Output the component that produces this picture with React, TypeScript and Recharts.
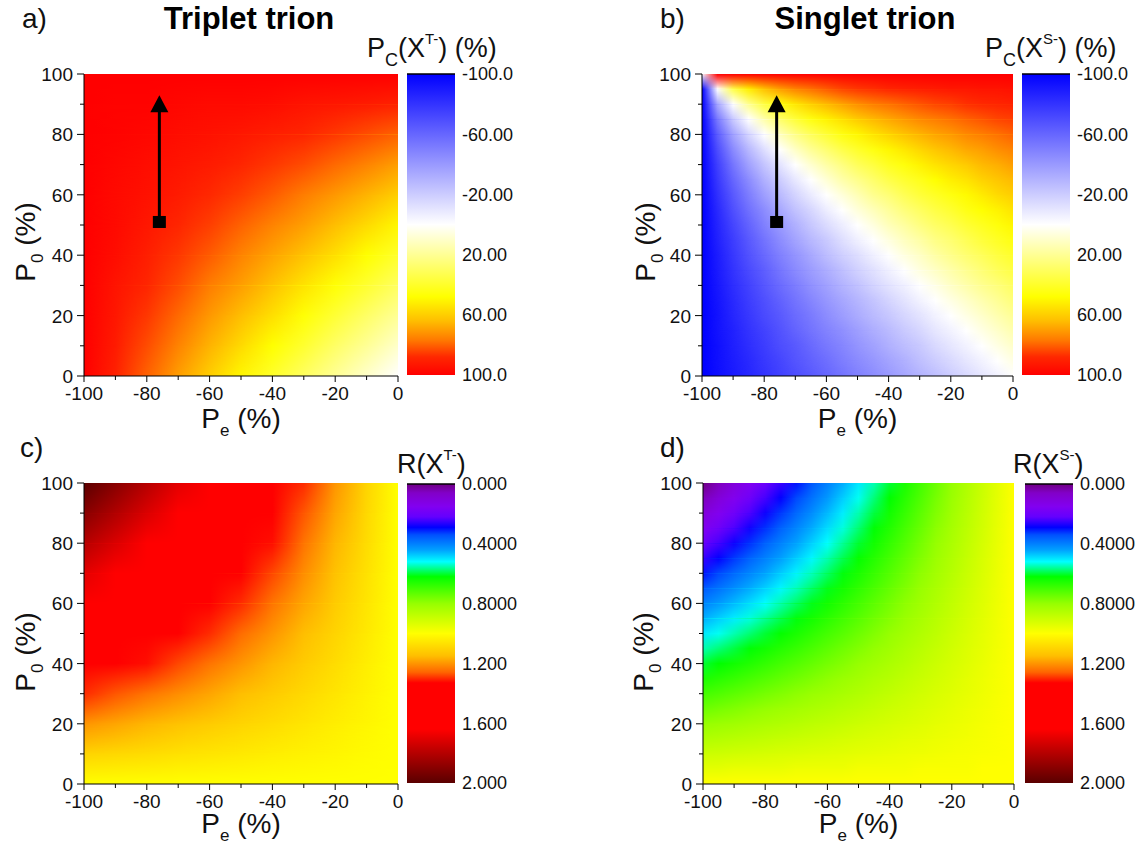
import React from 'react';
import { ComposedChart, XAxis, YAxis, ReferenceArea, ReferenceLine, Scatter } from 'recharts';

const FONT = '"Liberation Sans", Arial, Helvetica, sans-serif';

// ---- axes / categories ----
const PE = [-100, -90, -80, -70, -60, -50, -40, -30, -20, -10, 0];
const P0 = [0, 10, 20, 30, 40, 50, 60, 70, 80, 90, 100];
const PE_FINE = [-100, -95, -90, -85, -80, -75, -70, -65, -60, -55, -50, -45, -40, -35, -30, -25, -20, -15, -10, -5, 0];
const P0_FINE = [0, 5, 10, 15, 20, 25, 30, 35, 40, 45, 50, 55, 60, 65, 70, 75, 80, 85, 90, 95, 100];
const X_LABELED = [-100, -80, -60, -40, -20, 0];
const Y_LABELED = [0, 20, 40, 60, 80, 100];

// ---- heat-map values (rows: P0 ascending, columns: Pe ascending) ----
const PC_TRIPLET = [
  [100, 90, 80, 70, 60, 50, 40, 30, 20, 10, 0],
  [100, 92, 83, 75, 66, 57, 48, 39, 29, 20, 10],
  [100, 93, 86, 79, 71, 64, 56, 47, 38, 29, 20],
  [100, 94, 89, 83, 76, 70, 63, 55, 47, 39, 30],
  [100, 96, 91, 86, 81, 75, 69, 63, 56, 48, 40],
  [100, 97, 93, 89, 85, 80, 75, 70, 64, 57, 50],
  [100, 97, 95, 92, 88, 85, 81, 76, 71, 66, 60],
  [100, 98, 96, 94, 92, 89, 86, 83, 79, 75, 70],
  [100, 99, 98, 96, 95, 93, 91, 89, 86, 83, 80],
  [100, 99, 99, 98, 97, 97, 96, 94, 93, 92, 90],
  [100, 100, 100, 100, 100, 100, 100, 100, 100, 100, 100],
];

const PC_SINGLET = [
  [-100, -95, -90, -85, -80, -75, -70, -65, -60, -55, -50, -45, -40, -35, -30, -25, -20, -15, -10, -5, 0],
  [-100, -94, -89, -84, -78, -73, -67, -62, -57, -51, -46, -41, -36, -31, -25, -20, -15, -10, -5, 0, 5],
  [-100, -94, -88, -82, -76, -70, -65, -59, -53, -48, -42, -37, -31, -26, -21, -15, -10, -5, 0, 5, 10],
  [-100, -93, -87, -80, -74, -68, -61, -55, -49, -44, -38, -32, -27, -21, -16, -10, -5, 0, 5, 10, 15],
  [-100, -93, -85, -78, -71, -65, -58, -52, -45, -39, -33, -27, -22, -16, -11, -5, 0, 5, 10, 15, 20],
  [-100, -92, -84, -76, -69, -62, -55, -48, -41, -35, -29, -23, -17, -11, -5, 0, 5, 10, 15, 20, 25],
  [-100, -91, -82, -74, -66, -58, -51, -43, -37, -30, -24, -17, -11, -6, 0, 5, 11, 16, 21, 25, 30],
  [-100, -90, -80, -71, -63, -54, -46, -39, -32, -25, -18, -12, -6, 0, 6, 11, 16, 21, 26, 31, 35],
  [-100, -89, -78, -68, -59, -50, -42, -34, -26, -19, -13, -6, 0, 6, 11, 17, 22, 27, 31, 36, 40],
  [-100, -87, -76, -65, -55, -45, -36, -28, -21, -13, -6, 0, 6, 12, 17, 23, 27, 32, 37, 41, 45],
  [-100, -86, -73, -61, -50, -40, -31, -22, -14, -7, 0, 6, 13, 18, 24, 29, 33, 38, 42, 46, 50],
  [-100, -84, -69, -56, -45, -34, -24, -16, -7, 0, 7, 13, 19, 25, 30, 35, 39, 44, 48, 51, 55],
  [-100, -81, -65, -51, -38, -27, -17, -8, 0, 7, 14, 21, 26, 32, 37, 41, 45, 49, 53, 57, 60],
  [-100, -78, -60, -45, -31, -20, -9, 0, 8, 16, 22, 28, 34, 39, 43, 48, 52, 55, 59, 62, 65],
  [-100, -75, -54, -37, -23, -11, 0, 9, 17, 24, 31, 36, 42, 46, 51, 55, 58, 61, 65, 67, 70],
  [-100, -70, -46, -28, -13, 0, 11, 20, 27, 34, 40, 45, 50, 54, 58, 62, 65, 68, 70, 73, 75],
  [-100, -63, -36, -16, 0, 13, 23, 31, 38, 45, 50, 55, 59, 63, 66, 69, 71, 74, 76, 78, 80],
  [-100, -52, -21, 0, 16, 28, 37, 45, 51, 56, 61, 65, 68, 71, 74, 76, 78, 80, 82, 84, 85],
  [-100, -34, 0, 21, 36, 46, 54, 60, 65, 69, 73, 76, 78, 80, 82, 84, 85, 87, 88, 89, 90],
  [-100, 0, 34, 52, 63, 70, 75, 78, 81, 84, 86, 87, 89, 90, 91, 92, 93, 93, 94, 94, 95],
  [0, 100, 100, 100, 100, 100, 100, 100, 100, 100, 100, 100, 100, 100, 100, 100, 100, 100, 100, 100, 100],
];

const R_TRIPLET = [
  [1.0, 1.0, 1.0, 1.0, 1.0, 1.0, 1.0, 1.0, 1.0, 1.0, 1.0],
  [1.1, 1.09, 1.08, 1.07, 1.06, 1.05, 1.04, 1.03, 1.02, 1.01, 1.0],
  [1.2, 1.18, 1.16, 1.14, 1.12, 1.1, 1.08, 1.06, 1.04, 1.02, 1.0],
  [1.3, 1.27, 1.24, 1.21, 1.18, 1.15, 1.12, 1.09, 1.06, 1.03, 1.0],
  [1.4, 1.36, 1.32, 1.28, 1.24, 1.2, 1.16, 1.12, 1.08, 1.04, 1.0],
  [1.5, 1.45, 1.4, 1.35, 1.3, 1.25, 1.2, 1.15, 1.1, 1.05, 1.0],
  [1.6, 1.54, 1.48, 1.42, 1.36, 1.3, 1.24, 1.18, 1.12, 1.06, 1.0],
  [1.7, 1.63, 1.56, 1.49, 1.42, 1.35, 1.28, 1.21, 1.14, 1.07, 1.0],
  [1.8, 1.72, 1.64, 1.56, 1.48, 1.4, 1.32, 1.24, 1.16, 1.08, 1.0],
  [1.9, 1.81, 1.72, 1.63, 1.54, 1.45, 1.36, 1.27, 1.18, 1.09, 1.0],
  [2.0, 1.9, 1.8, 1.7, 1.6, 1.5, 1.4, 1.3, 1.2, 1.1, 1.0],
];

const R_SINGLET = [
  [1, 1, 1, 1, 1, 1, 1, 1, 1, 1, 1, 1, 1, 1, 1, 1, 1, 1, 1, 1, 1],
  [0.95, 0.95, 0.96, 0.96, 0.96, 0.96, 0.97, 0.97, 0.97, 0.97, 0.98, 0.98, 0.98, 0.98, 0.99, 0.99, 0.99, 0.99, 1, 1, 1],
  [0.9, 0.905, 0.91, 0.915, 0.92, 0.925, 0.93, 0.935, 0.94, 0.945, 0.95, 0.955, 0.96, 0.965, 0.97, 0.975, 0.98, 0.985, 0.99, 0.995, 1],
  [0.85, 0.858, 0.865, 0.873, 0.88, 0.888, 0.895, 0.903, 0.91, 0.918, 0.925, 0.933, 0.94, 0.948, 0.955, 0.963, 0.97, 0.978, 0.985, 0.993, 1],
  [0.8, 0.81, 0.82, 0.83, 0.84, 0.85, 0.86, 0.87, 0.88, 0.89, 0.9, 0.91, 0.92, 0.93, 0.94, 0.95, 0.96, 0.97, 0.98, 0.99, 1],
  [0.75, 0.763, 0.775, 0.788, 0.8, 0.813, 0.825, 0.838, 0.85, 0.863, 0.875, 0.888, 0.9, 0.913, 0.925, 0.938, 0.95, 0.963, 0.975, 0.988, 1],
  [0.7, 0.715, 0.73, 0.745, 0.76, 0.775, 0.79, 0.805, 0.82, 0.835, 0.85, 0.865, 0.88, 0.895, 0.91, 0.925, 0.94, 0.955, 0.97, 0.985, 1],
  [0.65, 0.668, 0.685, 0.703, 0.72, 0.738, 0.755, 0.773, 0.79, 0.808, 0.825, 0.843, 0.86, 0.878, 0.895, 0.913, 0.93, 0.948, 0.965, 0.983, 1],
  [0.6, 0.62, 0.64, 0.66, 0.68, 0.7, 0.72, 0.74, 0.76, 0.78, 0.8, 0.82, 0.84, 0.86, 0.88, 0.9, 0.92, 0.94, 0.96, 0.98, 1],
  [0.55, 0.573, 0.595, 0.618, 0.64, 0.663, 0.685, 0.708, 0.73, 0.753, 0.775, 0.798, 0.82, 0.843, 0.865, 0.888, 0.91, 0.933, 0.955, 0.978, 1],
  [0.5, 0.525, 0.55, 0.575, 0.6, 0.625, 0.65, 0.675, 0.7, 0.725, 0.75, 0.775, 0.8, 0.825, 0.85, 0.875, 0.9, 0.925, 0.95, 0.975, 1],
  [0.45, 0.478, 0.505, 0.533, 0.56, 0.588, 0.615, 0.643, 0.67, 0.698, 0.725, 0.753, 0.78, 0.808, 0.835, 0.863, 0.89, 0.918, 0.945, 0.973, 1],
  [0.4, 0.43, 0.46, 0.49, 0.52, 0.55, 0.58, 0.61, 0.64, 0.67, 0.7, 0.73, 0.76, 0.79, 0.82, 0.85, 0.88, 0.91, 0.94, 0.97, 1],
  [0.35, 0.383, 0.415, 0.448, 0.48, 0.513, 0.545, 0.578, 0.61, 0.643, 0.675, 0.708, 0.74, 0.773, 0.805, 0.838, 0.87, 0.903, 0.935, 0.968, 1],
  [0.3, 0.335, 0.37, 0.405, 0.44, 0.475, 0.51, 0.545, 0.58, 0.615, 0.65, 0.685, 0.72, 0.755, 0.79, 0.825, 0.86, 0.895, 0.93, 0.965, 1],
  [0.25, 0.288, 0.325, 0.363, 0.4, 0.438, 0.475, 0.513, 0.55, 0.588, 0.625, 0.663, 0.7, 0.738, 0.775, 0.813, 0.85, 0.888, 0.925, 0.963, 1],
  [0.2, 0.24, 0.28, 0.32, 0.36, 0.4, 0.44, 0.48, 0.52, 0.56, 0.6, 0.64, 0.68, 0.72, 0.76, 0.8, 0.84, 0.88, 0.92, 0.96, 1],
  [0.15, 0.193, 0.235, 0.278, 0.32, 0.363, 0.405, 0.448, 0.49, 0.533, 0.575, 0.618, 0.66, 0.703, 0.745, 0.788, 0.83, 0.873, 0.915, 0.958, 1],
  [0.1, 0.145, 0.19, 0.235, 0.28, 0.325, 0.37, 0.415, 0.46, 0.505, 0.55, 0.595, 0.64, 0.685, 0.73, 0.775, 0.82, 0.865, 0.91, 0.955, 1],
  [0.05, 0.098, 0.145, 0.193, 0.24, 0.288, 0.335, 0.383, 0.43, 0.478, 0.525, 0.573, 0.62, 0.668, 0.715, 0.763, 0.81, 0.858, 0.905, 0.953, 1],
  [0, 0.05, 0.1, 0.15, 0.2, 0.25, 0.3, 0.35, 0.4, 0.45, 0.5, 0.55, 0.6, 0.65, 0.7, 0.75, 0.8, 0.85, 0.9, 0.95, 1],
];

// ---- colour-bar ticks ----
const PC_BAR_TICKS = [-100, -60, -20, 20, 60, 100];
const PC_BAR_LABELS = ['-100.0', '-60.00', '-20.00', '20.00', '60.00', '100.0'];
const R_BAR_TICKS = [0, 0.4, 0.8, 1.2, 1.6, 2.0];
const R_BAR_LABELS = ['0.000', '0.4000', '0.8000', '1.200', '1.600', '2.000'];

// ---- arrow (start marker / tip) ----
const ARROW_START = [{ pe: -76, p0: 51 }];
const ARROW_TIP = [{ pe: -76, p0: 93 }];
const ARROW_SHAFT_END = 88;

// ---- colour maps (style) ----
type Stop = [number, string];
const PC_COLORS: Stop[] = [
  [-100, '#0000ff'], [0, '#ffffff'], [48, '#ffff00'], [64, '#ffbe00'],
  [77, '#ff7800'], [88, '#ff2800'], [100, '#ff0000'],
];
const R_COLORS: Stop[] = [
  [0, '#6e0082'], [0.06, '#8200c8'], [0.15, '#8200f0'], [0.22, '#6400ff'],
  [0.29, '#0000ff'], [0.34, '#0050ff'], [0.44, '#00a0ff'], [0.52, '#00ffff'],
  [0.62, '#00ff00'], [0.8, '#96ff00'], [1.0, '#ffff00'], [1.15, '#ffbe00'],
  [1.26, '#ff6400'], [1.33, '#ff0000'], [1.64, '#ff0000'], [1.78, '#be0000'],
  [2.0, '#5a0000'],
];

function hexToRgb(h: string) {
  return [parseInt(h.slice(1, 3), 16), parseInt(h.slice(3, 5), 16), parseInt(h.slice(5, 7), 16)];
}
function colorOf(v: number, stops: Stop[]): string {
  if (v <= stops[0][0]) return stops[0][1];
  for (let i = 1; i < stops.length; i++) {
    if (v <= stops[i][0]) {
      const [v0, c0] = stops[i - 1];
      const [v1, c1] = stops[i];
      const t = (v - v0) / (v1 - v0);
      const a = hexToRgb(c0);
      const b = hexToRgb(c1);
      const m = a.map((x, k) => Math.round(x + (b[k] - x) * t));
      return `rgb(${m[0]},${m[1]},${m[2]})`;
    }
  }
  return stops[stops.length - 1][1];
}

type Box = { x: number; y: number; w: number; h: number };

function XTick(props: any) {
  const { x, y, payload } = props;
  const v = payload.value;
  const major = X_LABELED.includes(v);
  return (
    <g>
      <line x1={x} x2={x} y1={y} y2={y + (major ? 6 : 4)} stroke="#000" strokeWidth={1} />
      {major && (
        <text x={x} y={y + 24} textAnchor="middle" fontSize={19} fontFamily={FONT} fill="#111">
          {v}
        </text>
      )}
    </g>
  );
}

function YTick(props: any) {
  const { x, y, payload } = props;
  const v = payload.value;
  const major = Y_LABELED.includes(v);
  return (
    <g>
      <line x1={x - (major ? 7 : 4)} x2={x} y1={y} y2={y} stroke="#000" strokeWidth={1} />
      {major && (
        <text x={x - 11} y={y + 7} textAnchor="end" fontSize={19} fontFamily={FONT} fill="#111">
          {v}
        </text>
      )}
    </g>
  );
}

function makeBand(id: string, r: number) {
  return (p: any) => (
    <g>
      <rect x={p.x} y={p.y} width={p.width} height={p.height} fill={`url(#${id}-row${r})`} shapeRendering="crispEdges" />
      <rect x={p.x} y={p.y} width={p.width} height={p.height} fill={`url(#${id}-row${r + 1})`} mask={`url(#${id}-fade)`} shapeRendering="crispEdges" />
    </g>
  );
}

const EmptyShape = () => <g />;
const SquareShape = (p: any) => <rect x={p.cx - 6.5} y={p.cy - 6} width={13} height={12} fill="#000" />;
const TipShape = (p: any) => (
  <polygon points={`${p.cx},${p.cy} ${p.cx - 9},${p.cy + 17} ${p.cx + 9},${p.cy + 17}`} fill="#000" />
);

function HeatPanel({ id, grid, pe, p0, stops, plot, arrow }: { id: string; grid: number[][]; pe: number[]; p0: number[]; stops: Stop[]; plot: Box; arrow?: boolean }) {
  const left = plot.x - 80;
  const top = plot.y - 10;
  const width = plot.w + 100;
  const height = plot.h + 50;
  const xAxisH = 30;
  const margin = {
    top: plot.y - top,
    left: 0,
    right: left + width - (plot.x + plot.w),
    bottom: top + height - (plot.y + plot.h) - xAxisH,
  };
  const span = pe[pe.length - 1] - pe[0];
  const points = grid.flatMap((row, r) => row.map((v, c) => ({ pe: pe[c], p0: p0[r], v })));
  return (
    <div style={{ position: 'absolute', left, top }}>
      <ComposedChart width={width} height={height} margin={margin} data={points}>
        <defs>
          {grid.map((row, r) => (
            <linearGradient key={r} id={`${id}-row${r}`} x1="0" y1="0" x2="1" y2="0">
              {row.map((v, c) => (
                <stop key={c} offset={(pe[c] - pe[0]) / span} stopColor={colorOf(v, stops)} />
              ))}
            </linearGradient>
          ))}
          <linearGradient id={`${id}-fadegrad`} x1="0" y1="1" x2="0" y2="0">
            <stop offset="0" stopColor="#fff" stopOpacity={0} />
            <stop offset="1" stopColor="#fff" stopOpacity={1} />
          </linearGradient>
          <mask id={`${id}-fade`} maskUnits="objectBoundingBox" maskContentUnits="objectBoundingBox" x="0" y="0" width="1" height="1">
            <rect x="0" y="0" width="1" height="1" fill={`url(#${id}-fadegrad)`} />
          </mask>
        </defs>
        <XAxis
          type="number"
          dataKey="pe"
          domain={[PE[0], PE[PE.length - 1]]}
          ticks={PE}
          interval={0}
          tickSize={0}
          tickMargin={0}
          tickLine={false}
          axisLine={{ stroke: '#000', strokeWidth: 1 }}
          tick={<XTick />}
          height={xAxisH}
        />
        <YAxis
          type="number"
          dataKey="p0"
          domain={[P0[0], P0[P0.length - 1]]}
          ticks={P0}
          interval={0}
          tickSize={0}
          tickMargin={0}
          tickLine={false}
          axisLine={{ stroke: '#000', strokeWidth: 1 }}
          tick={<YTick />}
          width={plot.x - left}
        />
        <Scatter data={points} dataKey="p0" shape={EmptyShape} isAnimationActive={false} />
        {p0.slice(0, -1).map((v, r) => (
          <ReferenceArea
            key={r}
            x1={pe[0]}
            x2={pe[pe.length - 1]}
            y1={p0[r]}
            y2={p0[r + 1]}
            fillOpacity={1}
            shape={makeBand(id, r)}
          />
        ))}
        {arrow && (
          <ReferenceLine
            segment={[
              { x: ARROW_START[0].pe, y: ARROW_START[0].p0 },
              { x: ARROW_TIP[0].pe, y: ARROW_SHAFT_END },
            ]}
            stroke="#000"
            strokeWidth={3}
          />
        )}
        {arrow && <Scatter data={ARROW_START} dataKey="p0" shape={SquareShape} isAnimationActive={false} />}
        {arrow && <Scatter data={ARROW_TIP} dataKey="p0" shape={TipShape} isAnimationActive={false} />}
      </ComposedChart>
    </div>
  );
}

function ColorBar({ id, stops, bar, ticks, labels }: { id: string; stops: Stop[]; bar: Box; ticks: number[]; labels: string[] }) {
  const labelW = 90;
  const min = ticks[0];
  const max = ticks[ticks.length - 1];
  const pts = ticks.map((t) => ({ x: 0.5, v: t }));
  return (
    <div style={{ position: 'absolute', left: bar.x, top: bar.y - 10 }}>
      <ComposedChart width={bar.w + labelW} height={bar.h + 20} margin={{ top: 10, bottom: 10, left: 0, right: 0 }} data={pts}>
        <defs>
          <linearGradient id={id} x1="0" y1="0" x2="0" y2="1">
            {stops.map(([v, c], i) => (
              <stop key={i} offset={(v - min) / (max - min)} stopColor={c} />
            ))}
          </linearGradient>
        </defs>
        <XAxis type="number" dataKey="x" domain={[0, 1]} hide />
        <YAxis
          type="number"
          dataKey="v"
          orientation="right"
          domain={[min, max]}
          reversed
          ticks={ticks}
          interval={0}
          width={labelW}
          axisLine={false}
          tickLine={false}
          tickSize={0}
          tickMargin={7}
          tick={{ fontSize: 18, fill: '#111', fontFamily: FONT }}
          tickFormatter={(v: number) => labels[ticks.findIndex((t) => Math.abs(t - v) < 1e-6)] ?? String(v)}
        />
        <Scatter data={pts} dataKey="v" shape={EmptyShape} isAnimationActive={false} />
        <ReferenceArea y1={min} y2={max} fill={`url(#${id})`} fillOpacity={1} stroke="none" />
        <ReferenceLine y={min} stroke="#000" strokeWidth={1.5} />
      </ComposedChart>
    </div>
  );
}

const PLOT_A: Box = { x: 84, y: 74, w: 314, h: 302 };
const PLOT_B: Box = { x: 702, y: 74, w: 311, h: 302 };
const PLOT_C: Box = { x: 84, y: 483, w: 314, h: 301 };
const PLOT_D: Box = { x: 703, y: 483, w: 311, h: 301 };
const BAR_A: Box = { x: 407, y: 74, w: 48, h: 301 };
const BAR_B: Box = { x: 1022, y: 74, w: 48, h: 301 };
const BAR_C: Box = { x: 407, y: 484, w: 48, h: 299 };
const BAR_D: Box = { x: 1025, y: 484, w: 48, h: 299 };

function XTitle({ plot, baseline }: { plot: Box; baseline: number }) {
  return (
    <text x={plot.x + plot.w / 2} y={baseline} textAnchor="middle" fontSize={28} fontFamily={FONT} fill="#111">
      P<tspan fontSize={17} dy={8}>e</tspan>
      <tspan dy={-8}> (%)</tspan>
    </text>
  );
}
function YTitle({ x, cy }: { x: number; cy: number }) {
  return (
    <text transform={`translate(${x},${cy}) rotate(-90)`} textAnchor="middle" fontSize={28} fontFamily={FONT} fill="#111">
      P<tspan fontSize={17} dy={8}>0</tspan>
      <tspan dy={-8}> (%)</tspan>
    </text>
  );
}
function PcTitle({ x, y, sup }: { x: number; y: number; sup: string }) {
  return (
    <text x={x} y={y} fontSize={27} fontFamily={FONT} fill="#111">
      P<tspan fontSize={18} dy={9}>C</tspan>
      <tspan dy={-9}>(X</tspan>
      <tspan fontSize={15} dy={-13}>{sup}</tspan>
      <tspan dy={13}>) (%)</tspan>
    </text>
  );
}
function RTitle({ x, y, sup }: { x: number; y: number; sup: string }) {
  return (
    <text x={x} y={y} fontSize={27} fontFamily={FONT} fill="#111">
      R(X<tspan fontSize={15} dy={-13}>{sup}</tspan>
      <tspan dy={13}>)</tspan>
    </text>
  );
}

export default function App() {
  return (
    <div style={{ position: 'absolute', left: 0, top: 0, width: 1148, height: 845, background: '#fff', fontFamily: FONT }}>
      <HeatPanel id="pa" grid={PC_TRIPLET} pe={PE} p0={P0} stops={PC_COLORS} plot={PLOT_A} arrow />
      <HeatPanel id="pb" grid={PC_SINGLET} pe={PE_FINE} p0={P0_FINE} stops={PC_COLORS} plot={PLOT_B} arrow />
      <HeatPanel id="pc" grid={R_TRIPLET} pe={PE} p0={P0} stops={R_COLORS} plot={PLOT_C} />
      <HeatPanel id="pd" grid={R_SINGLET} pe={PE_FINE} p0={P0_FINE} stops={R_COLORS} plot={PLOT_D} />
      <ColorBar id="cba" stops={PC_COLORS} bar={BAR_A} ticks={PC_BAR_TICKS} labels={PC_BAR_LABELS} />
      <ColorBar id="cbb" stops={PC_COLORS} bar={BAR_B} ticks={PC_BAR_TICKS} labels={PC_BAR_LABELS} />
      <ColorBar id="cbc" stops={R_COLORS} bar={BAR_C} ticks={R_BAR_TICKS} labels={R_BAR_LABELS} />
      <ColorBar id="cbd" stops={R_COLORS} bar={BAR_D} ticks={R_BAR_TICKS} labels={R_BAR_LABELS} />
      <svg width={1148} height={845} style={{ position: 'absolute', left: 0, top: 0, pointerEvents: 'none' }}>
        <text x={22} y={28} fontSize={28} fontFamily={FONT} fill="#111">a)</text>
        <text x={660} y={28} fontSize={28} fontFamily={FONT} fill="#111">b)</text>
        <text x={20} y={457} fontSize={28} fontFamily={FONT} fill="#111">c)</text>
        <text x={660} y={457} fontSize={28} fontFamily={FONT} fill="#111">d)</text>
        <text x={249} y={29} textAnchor="middle" fontSize={31} fontWeight="bold" fontFamily={FONT} fill="#000">Triplet trion</text>
        <text x={865} y={29} textAnchor="middle" fontSize={31} fontWeight="bold" fontFamily={FONT} fill="#000">Singlet trion</text>
        <PcTitle x={367} y={57} sup="T-" />
        <PcTitle x={985} y={57} sup="S-" />
        <RTitle x={397} y={473} sup="T-" />
        <RTitle x={1013} y={473} sup="S-" />
        <XTitle plot={PLOT_A} baseline={428} />
        <XTitle plot={PLOT_B} baseline={428} />
        <XTitle plot={PLOT_C} baseline={833} />
        <XTitle plot={PLOT_D} baseline={833} />
        <YTitle x={35} cy={242} />
        <YTitle x={655} cy={242} />
        <YTitle x={35} cy={652} />
        <YTitle x={653} cy={652} />
      </svg>
    </div>
  );
}
